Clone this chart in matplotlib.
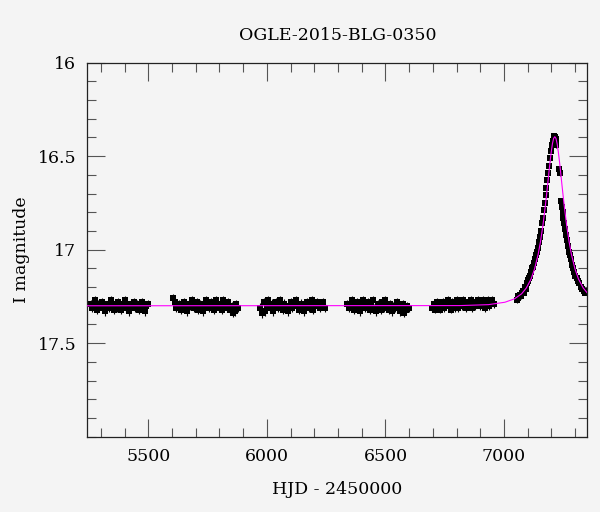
import matplotlib
matplotlib.use('Agg')
import matplotlib.pyplot as plt
import numpy as np
from matplotlib.ticker import MultipleLocator

plt.rcParams['font.family'] = ['DejaVu Serif']

title = 'OGLE-2015-BLG-0350'

# baseline seasons (HJD - 2450000, I mag)
t1 = [5258, 5264, 5270, 5277, 5283, 5290, 5296, 5303, 5309, 5316, 5322, 5329, 5335, 5342, 5348, 5355, 5361, 5368, 5374,
      5381, 5387, 5394, 5400, 5407, 5413, 5420, 5426, 5433, 5439, 5446, 5452, 5459, 5465, 5472, 5478, 5485, 5491, 5498]
m1 = [17.29, 17.31, 17.30, 17.27, 17.32, 17.29, 17.30, 17.28, 17.31, 17.33, 17.30, 17.29, 17.31, 17.27, 17.30, 17.32,
      17.29, 17.31, 17.28, 17.30, 17.32, 17.29, 17.27, 17.31, 17.30, 17.33, 17.29, 17.30, 17.28, 17.31, 17.29, 17.32,
      17.30, 17.28, 17.31, 17.33, 17.30, 17.29]

t2 = [5604, 5611, 5617, 5624, 5631, 5637, 5644, 5651, 5657, 5664, 5671, 5677, 5684, 5691, 5697, 5704, 5711, 5717, 5724,
      5731, 5737, 5744, 5751, 5757, 5764, 5771, 5777, 5784, 5791, 5797, 5804, 5811, 5817, 5824, 5831, 5837, 5844, 5851,
      5857, 5864, 5871, 5877]
m2 = [17.26, 17.28, 17.31, 17.30, 17.29, 17.32, 17.30, 17.28, 17.31, 17.33, 17.29, 17.30, 17.27, 17.31, 17.30, 17.28,
      17.32, 17.29, 17.31, 17.33, 17.30, 17.27, 17.29, 17.31, 17.28, 17.30, 17.32, 17.27, 17.30, 17.31, 17.29, 17.32,
      17.27, 17.30, 17.31, 17.28, 17.32, 17.30, 17.34, 17.33, 17.29, 17.31]

t3 = [5972, 5979, 5986, 5992, 5999, 6006, 6013, 6020, 6026, 6033, 6040, 6047, 6054, 6060, 6067, 6074, 6081, 6088, 6094,
      6101, 6108, 6115, 6122, 6128, 6135, 6142, 6149, 6156, 6162, 6169, 6176, 6183, 6190, 6196, 6203, 6210, 6217, 6224,
      6230, 6237, 6244]
m3 = [17.31, 17.34, 17.28, 17.33, 17.30, 17.27, 17.31, 17.29, 17.33, 17.30, 17.28, 17.31, 17.27, 17.30, 17.32, 17.29,
      17.31, 17.33, 17.30, 17.28, 17.31, 17.29, 17.27, 17.30, 17.32, 17.29, 17.31, 17.33, 17.30, 17.28, 17.31, 17.29,
      17.27, 17.32, 17.30, 17.28, 17.29, 17.31, 17.30, 17.28, 17.31]

t4 = [6340, 6347, 6353, 6360, 6367, 6373, 6380, 6387, 6393, 6400, 6407, 6413, 6420, 6427, 6433, 6440, 6447, 6453, 6460,
      6467, 6473, 6480, 6487, 6493, 6500, 6507, 6513, 6520, 6527, 6533, 6540, 6547, 6553, 6560, 6567, 6573, 6580, 6587,
      6593, 6599]
m4 = [17.29, 17.31, 17.30, 17.27, 17.32, 17.30, 17.28, 17.31, 17.33, 17.29, 17.27, 17.31, 17.30, 17.28, 17.32, 17.29,
      17.27, 17.31, 17.33, 17.29, 17.30, 17.32, 17.28, 17.31, 17.27, 17.30, 17.32, 17.29, 17.33, 17.30, 17.31, 17.28,
      17.30, 17.33, 17.31, 17.29, 17.34, 17.32, 17.30, 17.31]

t5 = [6697, 6704, 6710, 6717, 6723, 6730, 6736, 6743, 6749, 6756, 6762, 6769, 6775, 6782, 6788, 6795, 6801, 6808, 6814,
      6821, 6827, 6834, 6840, 6847, 6853, 6860, 6866, 6873, 6879, 6886, 6892, 6899, 6905, 6912, 6918, 6925, 6931, 6938,
      6944, 6951, 6956]
m5 = [17.31, 17.29, 17.32, 17.28, 17.30, 17.32, 17.29, 17.28, 17.31, 17.30, 17.27, 17.29, 17.32, 17.28, 17.30, 17.31,
      17.27, 17.31, 17.29, 17.30, 17.27, 17.29, 17.31, 17.28, 17.30, 17.27, 17.31, 17.29, 17.30, 17.28, 17.27, 17.30,
      17.29, 17.27, 17.31, 17.28, 17.27, 17.30, 17.29, 17.27, 17.29]

# event season
t6 = [7053, 7057, 7061, 7066, 7070, 7074, 7078, 7083, 7087, 7091, 7095, 7099, 7103, 7107, 7111, 7115, 7119, 7123, 7127,
      7131, 7135, 7139, 7143, 7147, 7151, 7155, 7159, 7163, 7167, 7171, 7175, 7179, 7183, 7187, 7191, 7195, 7199, 7203,
      7206, 7209, 7212, 7215, 7218, 7221, 7233, 7234, 7241, 7244, 7247, 7250, 7253, 7257, 7261, 7265, 7269, 7273, 7277,
      7281, 7286, 7291, 7296, 7301, 7306, 7311, 7317, 7323, 7329, 7336, 7342, 7348]
m6 = [17.27, 17.25, 17.26, 17.24, 17.25, 17.23, 17.22, 17.23, 17.20, 17.21, 17.18, 17.17, 17.16, 17.15, 17.14, 17.12,
      17.10, 17.09, 17.07, 17.05, 17.03, 17.01, 16.99, 16.96, 16.93, 16.90, 16.86, 16.83, 16.79, 16.75, 16.71, 16.67,
      16.63, 16.59, 16.55, 16.51, 16.47, 16.44, 16.42, 16.40, 16.39, 16.40, 16.41, 16.44, 16.57, 16.59, 16.74, 16.77,
      16.80, 16.83, 16.86, 16.89, 16.92, 16.95, 16.98, 17.01, 17.03, 17.05, 17.08, 17.10, 17.12, 17.14, 17.15, 17.17,
      17.18, 17.20, 17.21, 17.22, 17.23, 17.23]

season_t = [t1, t2, t3, t4, t5, t6]
season_m = [m1, m2, m3, m4, m5, m6]
season_err = [0.022, 0.022, 0.024, 0.022, 0.021, 0.015]

# model curve
model_t = [5240, 6814, 6934, 7004, 7044, 7074, 7094, 7114, 7129, 7144, 7154, 7164, 7174, 7179, 7184, 7189, 7194, 7199,
           7204, 7209, 7214, 7219, 7224, 7229, 7234, 7239, 7244, 7249, 7254, 7264, 7274, 7284, 7299, 7314, 7334, 7354]
model_m = [17.300, 17.299, 17.294, 17.281, 17.263, 17.236, 17.205, 17.157, 17.102, 17.024, 16.955, 16.870, 16.767,
           16.710, 16.651, 16.590, 16.531, 16.478, 16.434, 16.405, 16.396, 16.405, 16.434, 16.478, 16.531, 16.590,
           16.651, 16.710, 16.767, 16.870, 16.955, 17.024, 17.102, 17.157, 17.205, 17.236]

bg = '#f4f4f4'
fig = plt.figure(figsize=(6, 5.12), dpi=100, facecolor=bg)
ax = fig.add_axes([0.1455, 0.1471, 0.8333, 0.7305], facecolor=bg)

for t, m, e in zip(season_t, season_m, season_err):
    ax.errorbar(t, m, yerr=e, fmt='s', color='black', ms=4.8, mew=0, elinewidth=0.8,
                capsize=2.0, capthick=0.8, zorder=2)

ax.plot(model_t, model_m, color='#ff00ff', lw=0.8, zorder=3)

ax.set_xlim(5243, 7351)
ax.set_ylim(18, 16)
ax.xaxis.set_major_locator(MultipleLocator(500))
ax.xaxis.set_minor_locator(MultipleLocator(100))
ax.yaxis.set_major_locator(MultipleLocator(0.5))
ax.yaxis.set_minor_locator(MultipleLocator(0.1))
ax.tick_params(which='both', direction='in', top=True, right=True, color='#555555', width=0.8)
ax.tick_params(which='major', length=13, labelsize=12.5, pad=8)
ax.tick_params(which='minor', length=6.8)
ax.set_yticks([16, 16.5, 17, 17.5])
ax.set_yticklabels(['16', '16.5', '17', '17.5'])
for s in ax.spines.values():
    s.set_linewidth(0.9)
    s.set_color('#222222')

ax.set_title(title, fontsize=12.5, pad=16)
ax.set_xlabel('HJD - 2450000', fontsize=12.5, labelpad=12)
ax.set_ylabel('I magnitude', fontsize=12.5, labelpad=5)

fig.savefig('out.png', dpi=100, facecolor=bg)
